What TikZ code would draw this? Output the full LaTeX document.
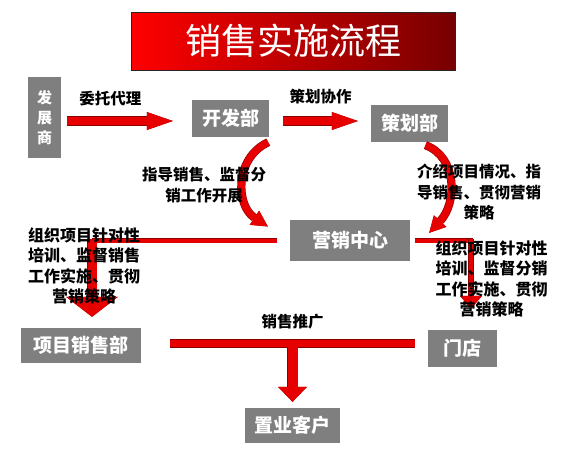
\documentclass[tikz,border=0pt]{standalone}
\usepackage{fontspec}
\setmainfont{Noto Sans CJK SC}
\usetikzlibrary{arrows.meta,positioning,calc}
\definecolor{Slate}{HTML}{7F7F7F}
\definecolor{Flame}{HTML}{E60000}
\definecolor{Ember}{HTML}{8C0000}
\definecolor{HeadL}{HTML}{FF0000}
\definecolor{HeadR}{HTML}{780000}
\tikzset{
  dept/.style={fill=Slate,text=white,inner sep=0pt,font=\fontsize{19}{19}\selectfont\bfseries},
  lab/.style={font=\fontsize{15.5}{20.5}\selectfont\bfseries,align=center,inner sep=0pt},
  sidelab/.style={lab,font=\fontsize{16}{20.5}\selectfont\bfseries},
  redarrow/.style n args={3}{draw=Flame,line width=#1,-{Triangle[length=#2,width=#3,line width=0pt]},
    preaction={draw=Ember,line width=#1+1.2pt,-{Triangle[length=#2,width=#3,line width=0pt]}}},
  feed/.style={draw=Flame,line width=#1,preaction={draw=Ember,line width=#1+1.2pt}}
}
\begin{document}
\begin{tikzpicture}[x=1pt,y=-1pt]
  \useasboundingbox (0,0) rectangle (564,453);
  % title
  \node[draw=black!85,line width=.6pt,left color=HeadL,right color=HeadR,minimum width=324pt,minimum height=58pt,
    inner sep=0pt,text=white,font=\fontsize{36}{36}\selectfont] (title) at (293,41) {销售实施流程};
  % departments
  \node[dept,minimum width=33pt,minimum height=81pt,align=center,font=\fontsize{15}{20}\selectfont\bfseries] (dev) at (44.5,117.5) {发\\展\\商};
  \node[dept,minimum width=77pt,minimum height=37pt] (kaifa) at (230.5,118.5) {开发部};
  \node[dept,minimum width=77pt,minimum height=37pt] (cehua) at (409.5,123.5) {策划部};
  \node[dept,minimum width=120pt,minimum height=41pt] (yingxiao) at (350,240.5) {营销中心};
  \node[dept,minimum width=120pt,minimum height=35pt] (xiangmu) at (81,345.5) {项目销售部};
  \node[dept,minimum width=69pt,minimum height=37pt] (mendian) at (462.5,348.5) {门店};
  \node[dept,minimum width=95pt,minimum height=35pt] (kehu) at (292.5,425.5) {置业客户};
  % top row
  \draw[redarrow={8pt}{26pt}{18pt}] ($(dev.east)+(6,3.5)$) -- ($(kaifa.west)+(-19,2.5)$)
    node[lab,pos=.41,above=11pt] {委托代理};
  \draw[redarrow={8pt}{26pt}{18pt}] ($(kaifa.east)+(14,2.5)$) -- ($(cehua.west)+(-13,-2.5)$)
    node[lab,midway,above=13pt] {策划协作};
  % bends into the centre
  \draw[redarrow={7pt}{16pt}{17pt}] ($(kaifa.south east)+(-1,5)$) .. controls +(-34,16) and +(-32,-21) .. ($(yingxiao.west)+(-22,-14)$);
  \node[lab] (zhidao) at (204,185) {指导销售、监督分\\销工作开展};
  \draw[redarrow={7pt}{16pt}{17pt}] ($(cehua.south)+(16,3)$) .. controls +(32,12) and +(28,-30) .. ($(yingxiao.north east)+(19,13)$);
  \node[lab] (jieshao) at (479,192) {介绍项目情况、指\\导销售、贯彻营销\\策略};
  % left and right branches
  \coordinate (lturn) at (92,240.5);
  \coordinate (rturn) at (471,240.5);
  \draw[feed=4pt] ($(yingxiao.west)+(-13,0)$) -- (lturn);
  \draw[redarrow={9pt}{20pt}{52pt}] ($(lturn)+(0,-2)$) -- ($(lturn |- xiangmu.north)+(0,-11)$);
  \draw[feed=4pt] ($(yingxiao.east)+(5,0)$) -- ($(rturn)+(2,0)$);
  \draw[redarrow={4pt}{13pt}{22pt}] ($(rturn)+(0,-2)$) -- ($(rturn |- mendian.north)+(0,-21)$);
  \node[sidelab] (zuzhiL) at (84,266) {组织项目针对性\\培训、监督销售\\工作实施、贯彻\\营销策略};
  \node[sidelab] (zuzhiR) at (491.5,279) {组织项目针对性\\培训、监督分销\\工作实施、贯彻\\营销策略};
  % bottom
  \coordinate (tjoin) at (292.5,343.5);
  \draw[feed=7pt] ($(xiangmu.east |- tjoin)+(29,0)$) -- ($(mendian.west |- tjoin)+(-13,0)$)
    node[lab,midway,above=11pt] {销售推广};
  \draw[redarrow={10pt}{15pt}{29pt}] ($(tjoin)+(0,3)$) -- ($(kehu.north)+(0,-6)$);
\end{tikzpicture}
\end{document}
